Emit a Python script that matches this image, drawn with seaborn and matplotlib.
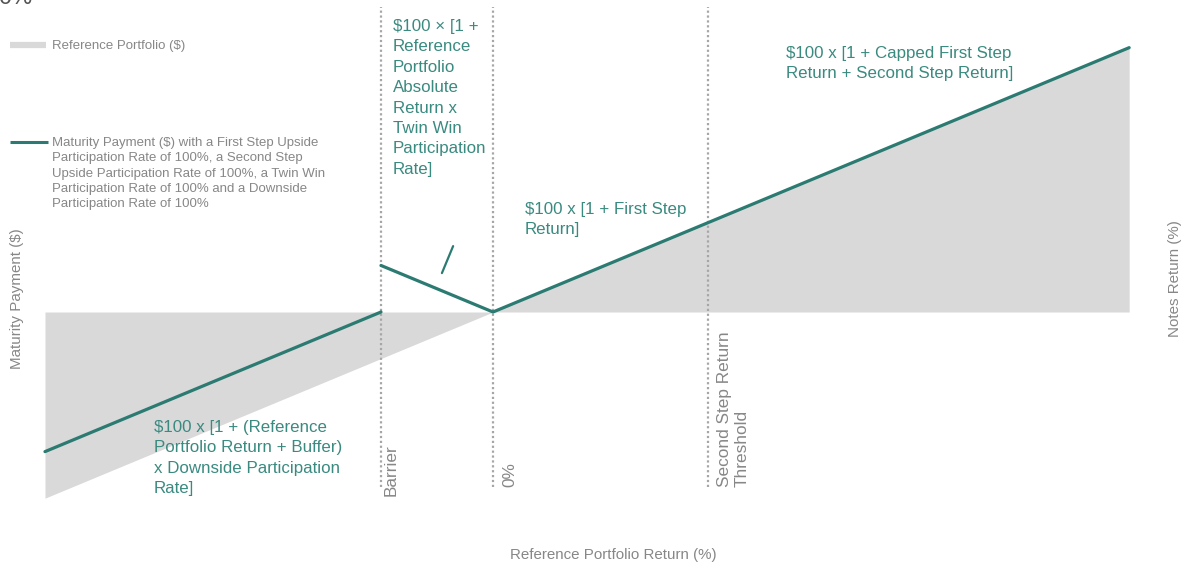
import numpy as np
import pandas as pd
import seaborn as sns
from matplotlib import pyplot as plt
from matplotlib.lines import Line2D

# reference portfolio return (%) and payment ($) per $100
ref_x = [-100, 142]
ref_y = [0, 242]
base_level = 100

# maturity payment, two pieces (jump at the barrier)
seg_below_x = [-100, -25]
seg_below_y = [25, 100]
seg_above_x = [-25, 0, 142]
seg_above_y = [125, 100, 242]

barrier = -25
zero_pct = 0
second_step = 48

# small leader mark next to the twin win segment
mark_x = [-11.4, -8.9]
mark_y = [120.9, 135.4]

TEAL = "#2b7b72"
TEAL_TXT = "#3a8a80"
GREY_TXT = "#878787"
FILL = "#d9d9d9"

W, H = 1185, 565
sns.set_theme(style="white")
plt.rcParams['font.family'] = ['Liberation Sans', 'DejaVu Sans']

fig = plt.figure(figsize=(W / 100, H / 100), dpi=100)
ax = fig.add_axes([0, 0, 1, 1])
ax.set_axis_off()
ax.set_xlim(-110.04, 154.46)
ax.set_ylim(-35.9, 267.6)

def fx(px):
    return px / W

def fy(py):
    return 1 - py / H

# grey reference portfolio area
ax.fill_between(ref_x, ref_y, base_level, color=FILL, linewidth=0, zorder=1)

# vertical dotted guides
for xv in [barrier, zero_pct, second_step]:
    ax.plot([xv, xv], [6, 264], color="#a6a6a6", linestyle=(0, (1, 1.2)),
            linewidth=1.6, zorder=2)

# maturity payment line
segs = pd.concat([
    pd.DataFrame({"x": seg_below_x, "y": seg_below_y, "seg": "below"}),
    pd.DataFrame({"x": seg_above_x, "y": seg_above_y, "seg": "above"}),
])
sns.lineplot(data=segs, x="x", y="y", units="seg", estimator=None, sort=False,
             color=TEAL, linewidth=2.3, ax=ax, zorder=3, legend=False)
ax.plot(mark_x, mark_y, color=TEAL, linewidth=1.6, zorder=3)

# legend drawn by hand
fig.add_artist(Line2D([fx(10), fx(46)], [fy(45), fy(45)], color=FILL, linewidth=4.5,
                      solid_capstyle="butt"))
fig.add_artist(Line2D([fx(10), fx(48)], [fy(142), fy(142)], color=TEAL, linewidth=2.2,
                      solid_capstyle="butt"))
fig.text(fx(52), fy(46), "Reference Portfolio ($)", color=GREY_TXT, fontsize=9.5,
         va="center", ha="left")
fig.text(fx(52), fy(137), "Maturity Payment ($) with a First Step Upside\n"
         "Participation Rate of 100%, a Second Step\n"
         "Upside Participation Rate of 100%, a Twin Win\n"
         "Participation Rate of 100% and a Downside\n"
         "Participation Rate of 100%",
         color=GREY_TXT, fontsize=9.5, va="top", ha="left", linespacing=1.37)

# cut-off title remnant
fig.text(fx(-2), fy(4), "0%", color="#555555", fontsize=17, va="baseline", ha="left")

# formula annotations
ann = dict(color=TEAL_TXT, fontsize=12.2, va="top", ha="left", linespacing=1.45)
fig.text(fx(393), fy(19), "$100 × [1 +\nReference\nPortfolio\nAbsolute\nReturn x\n"
         "Twin Win\nParticipation\nRate]", **ann)
fig.text(fx(525), fy(202), "$100 x [1 + First Step\nReturn]", **ann)
fig.text(fx(786), fy(46), "$100 x [1 + Capped First Step\nReturn + Second Step Return]", **ann)
fig.text(fx(154), fy(420), "$100 x [1 + (Reference\nPortfolio Return + Buffer)\n"
         "x Downside Participation\nRate]", **ann)

# guide labels
lab = dict(color=GREY_TXT, fontsize=12.4, rotation=90, va="bottom", ha="center",
           linespacing=1.25)
fig.text(fx(391), fy(496), "Barrier", **lab)
fig.text(fx(510), fy(487), "0%", **lab)
fig.text(fx(733), fy(487), "Second Step Return\nThreshold", multialignment="left", **lab)

# axis titles
fig.text(fx(613), fy(555), "Reference Portfolio Return (%)", color=GREY_TXT,
         fontsize=10.9, ha="center", va="center")
fig.text(fx(17), fy(299), "Maturity Payment ($)", color=GREY_TXT, fontsize=10.9,
         rotation=90, ha="center", va="center")
fig.text(fx(1175), fy(279), "Notes Return (%)", color=GREY_TXT, fontsize=10.9,
         rotation=90, ha="center", va="center")

fig.savefig("out.png", dpi=100)
